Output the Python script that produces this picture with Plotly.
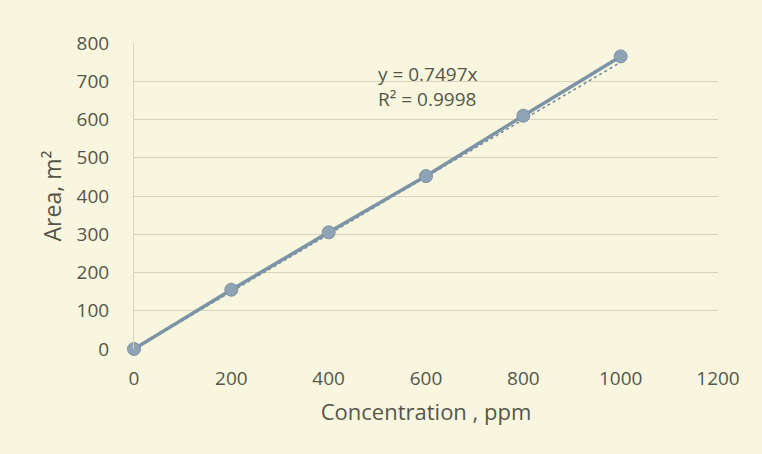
import plotly.graph_objects as go

conc = [0, 200, 400, 600, 800, 1000]
area = [0, 155, 305, 452, 610, 765]
slope = 0.7497
eq_text = "y = 0.7497x<br>R² = 0.9998"
x_ticks = [0, 200, 400, 600, 800, 1000, 1200]
y_ticks = [0, 100, 200, 300, 400, 500, 600, 700, 800]

bg = "#f8f6df"
txt = "#55564a"
font = "Open Sans, Liberation Sans, sans-serif"

fig = go.Figure()
fig.add_trace(go.Scatter(
    x=[conc[0], conc[-1]], y=[slope * conc[0], slope * conc[-1]], mode="lines",
    line=dict(color="#71869a", width=1.5, dash="dot"), showlegend=False, cliponaxis=False))
fig.add_trace(go.Scatter(
    x=conc, y=area, mode="lines+markers", cliponaxis=False,
    line=dict(color="#7d93a6", width=3.5),
    marker=dict(size=13, color="#8ea3b4", line=dict(color="#7d93a6", width=1)),
    showlegend=False))

fig.add_annotation(x=498, y=757, xref="x", yref="y", text=eq_text, showarrow=False,
                   xanchor="left", yanchor="top", align="left",
                   font=dict(family=font, size=19, color=txt))

fig.update_layout(
    width=762, height=454,
    paper_bgcolor=bg, plot_bgcolor=bg,
    margin=dict(l=134, r=44, t=43, b=105, autoexpand=False),
    font=dict(family=font, size=19, color=txt),
    xaxis=dict(range=[0, 1200], tickvals=x_ticks, showgrid=False, zeroline=False,
               showline=False, ticks="", ticklabelstandoff=16,
               title=dict(text="Concentration , ppm", standoff=14, font=dict(size=22))),
    yaxis=dict(range=[0, 800], tickvals=y_ticks, showgrid=True, gridcolor="#d6d4bd",
               gridwidth=1, zeroline=False, showline=True, linecolor="#d6d4bd",
               ticks="", ticklabelstandoff=20,
               title=dict(text="Area, m²", standoff=8, font=dict(size=23))),
)
fig.write_html("out.html", config={"displayModeBar": False},
               post_script="document.body.style.margin='0';document.body.style.background='%s';" % bg)
